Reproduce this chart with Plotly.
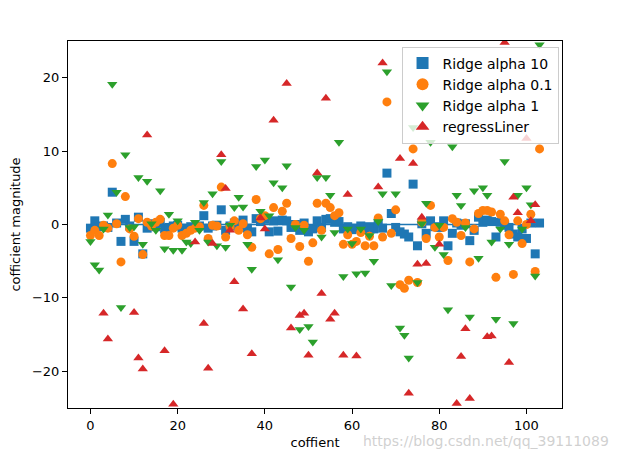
import plotly.graph_objects as go

# coefficient index
coef_idx = list(range(104))

ridge10 = [-0.5, 0.5, -0.3, -0.2, -0.4, 4.4, 0.2, -2.3, 0.7, -0.2,
           -2.3, 1.0, -4.0, -0.5, 0.1, -0.3, 0.3, -0.6, -0.4, -0.2,
           -0.1, -0.5, -0.7, -0.3, -0.4, -0.2, 1.2, -0.5, -0.2, -0.1,
           2.0, -0.8, -0.2, 0.2, -0.3, 0.6, -0.5, -1.0, 0.8, 0.4,
           0.7, -1.0, 0.5, -0.9, 0.6, 0.5, -0.4, 0.0, -0.8, 0.2,
           -1.0, -0.6, 0.5, -0.4, 0.7, 0.8, 0.3, 0.4, -0.6, -0.3,
           -0.7, -0.5, -0.2, -0.7, -0.3, -0.6, 0.2, -0.5, 7.0, 1.5,
           -0.4, -1.0, -1.3, -1.7, 5.5, -2.9, 0.1, -1.2, 0.5, -0.3,
           -0.4, 0.5, -2.9, -1.2, 0.2, -0.1, 0.1, -2.2, -0.8, 1.0,
           0.3, 0.6, 0.4, -1.7, 0.3, -0.1, -0.4, -1.3, -1.7, -0.6,
           -1.9, 0.2, -4.0, 0.2]

ridge01 = [-1.5, -0.8, -1.5, -0.1, -0.5, 8.3, 0.1, -5.1, 3.8, -0.6,
           -1.6, 0.8, -4.1, 0.3, -0.2, 0.3, 0.7, -1.5, -1.5, -0.5,
           -0.1, -1.5, -1.2, -0.8, -0.5, -0.3, 2.6, -1.9, -0.1, -0.2,
           5.1, -1.7, -0.3, 0.5, -0.8, 0.1, -1.4, -3.1, 3.4, 0.8,
           1.2, -4.0, 2.3, -3.4, 1.8, 2.9, -1.9, 0.0, -3.0, -0.1,
           -5.0, -2.5, 2.9, -0.8, 2.9, 2.3, 1.2, 1.6, -2.7, -1.4,
           -2.7, -2.3, -1.1, -2.9, -1.6, -2.9, 0.9, -1.7, 16.7, -1.2,
           2.0, -8.2, -8.7, -7.6, 10.3, -7.9, 0.3, -1.9, 2.6, -0.4,
           -1.7, -0.4, -4.9, 0.8, 0.3, -1.5, 0.2, -5.1, -0.6, 1.5,
           1.9, 1.9, 1.7, -7.2, 1.4, 0.5, -1.4, -6.8, 0.5, -2.6,
           0.0, 1.4, -6.4, 10.3]

ridge1 = [-2.3, -5.5, -6.2, -0.6, 1.3, 19.1, 4.4, -11.3, 9.5, -0.4,
          -0.3, 6.4, -2.7, 5.9, 0.1, -0.8, 4.6, -3.3, 1.4, -3.5,
          0.5, -3.5, -2.4, -2.6, 0.3, -0.8, 3.0, -2.4, 4.2, -2.9,
          8.6, -3.1, -0.1, 2.3, 3.7, 2.4, -2.7, -6.1, 7.9, 1.8,
          8.8, 1.2, 5.7, -4.8, 5.0, 8.0, -8.5, -0.4, -14.3, -0.8,
          -13.9, -16.0, 6.4, -1.7, 6.4, 4.0, -1.1, 11.2, -7.1, -0.6,
          -2.6, -6.7, -0.6, -6.6, -1.5, -5.0, 0.4, 4.2, 20.8, -8.3,
          4.2, -14.1, -15.1, -18.2, 13.2, -7.9, 0.1, 2.9, 11.2, -3.1,
          -0.1, -4.1, -11.6, 10.6, 4.0, 2.6, -0.4, -12.6, 4.6, -4.6,
          5.0, 4.0, -2.4, -12.9, -0.6, 8.6, -2.7, -13.5, 4.0, -0.6,
          5.0, 2.7, -7.0, 24.5]

# plain linear regression: values outside the visible range (|y|>25) are unknown -> None
linreg = [None, None, None, -12.1, -15.6, None, None, None, None, None,
          -12.0, -18.2, -19.7, 12.2, None, None, None, -17.2, None, -24.5,
          None, None, None, None, -2.4, None, -13.5, -19.6, -2.6, None,
          9.5, 4.9, -0.8, -7.8, None, -11.5, None, -17.6, None, 0.9,
          -0.6, None, 14.2, None, None, 19.2, -14.1, None, -12.4, -12.1,
          -17.8, None, 7.0, -9.4, 17.2, -12.9, -12.1, None, -17.8, 4.1,
          None, -17.9, None, None, None, None, 5.1, 22.0, None, None,
          None, 9.0, None, -23.0, 8.3, -5.4, 1.0, -5.3, None, None,
          -2.7, None, None, None, -24.4, -18.0, -14.2, -23.7, None, None,
          None, -15.3, -15.2, None, None, 24.8, -18.8, 3.7, 1.6, None,
          11.7, 0.5, 2.7, None]

series = [
    ("Ridge alpha 10", ridge10, "square", "#1f77b4"),
    ("Ridge alpha 0.1", ridge01, "circle", "#ff7f0e"),
    ("Ridge alpha 1", ridge1, "triangle-down", "#2ca02c"),
    ("regressLiner", linreg, "triangle-up", "#d62728"),
]

fig = go.Figure()
for name, vals, sym, col in series:
    fig.add_trace(go.Scatter(x=coef_idx, y=vals, mode="markers", name=name,
                             marker=dict(symbol=sym, color=col, size=9,
                                         line=dict(width=0))))

# horizontal zero line (hlines(0, 0, n))
fig.add_shape(type="line", x0=0, x1=len(ridge10), y0=0, y1=0,
              xref="x", yref="y", line=dict(color="#1f77b4", width=1.5),
              layer="below")

axis_common = dict(showgrid=False, zeroline=False, showline=True, mirror=True,
                   linecolor="black", linewidth=1, ticks="outside", ticklen=5,
                   tickcolor="black", tickfont=dict(size=13, color="black"),
                   automargin=False)

fig.update_layout(
    width=617, height=459,
    margin=dict(l=60, r=63, t=33, b=59),
    paper_bgcolor="white", plot_bgcolor="white",
    font=dict(family="DejaVu Sans", size=13, color="black"),
    xaxis=dict(range=[-5.15, 108.15], tickvals=[0, 20, 40, 60, 80, 100],
               title=dict(text="coffient", standoff=6, font=dict(size=13)),
               **axis_common),
    yaxis=dict(range=[-25, 25], tickvals=[-20, -10, 0, 10, 20],
               title=dict(text="cofficient magnitude", standoff=10, font=dict(size=13)),
               **axis_common),
    legend=dict(x=0.993, y=0.985, xanchor="right", yanchor="top",
                bgcolor="rgba(255,255,255,0.8)", bordercolor="#cccccc",
                borderwidth=1, font=dict(size=14), itemsizing="constant",
                tracegroupgap=2),
    showlegend=True,
)

fig.add_annotation(text="https://blog.csdn.net/qq_39111089", xref="paper", yref="paper",
                   x=1.099, y=-0.09, xanchor="right", yanchor="middle", showarrow=False,
                   font=dict(size=14, color="rgba(200,200,200,0.85)"))

fig.write_html("out.html")
